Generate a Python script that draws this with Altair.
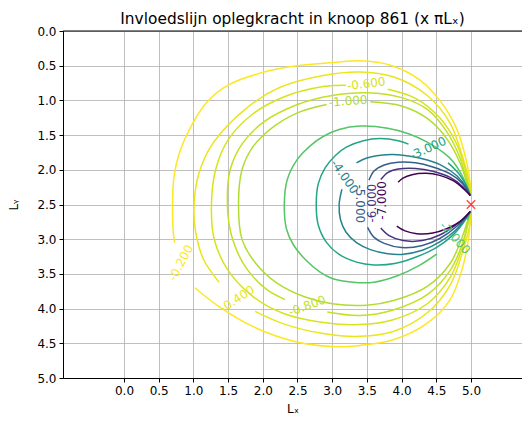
import altair as alt
import pandas as pd

# ---- axis ticks ----
X_TICKS = [0.0, 0.5, 1.0, 1.5, 2.0, 2.5, 3.0, 3.5, 4.0, 4.5, 5.0]
Y_TICKS = [0.0, 0.5, 1.0, 1.5, 2.0, 2.5, 3.0, 3.5, 4.0, 4.5, 5.0]

# ---- contour levels ----
LEVELS = [-0.2, -0.4, -0.6, -0.8, -1.0, -2.0, -3.0, -4.0, -5.0, -6.0, -7.0]

# ---- contour segments: (x, y) ----
C_02 = [
    [(4.99, 2.37), (4.99, 2.22), (4.94, 1.90), (4.79, 1.40), (4.55, 1.00), (4.27, 0.71),
     (3.83, 0.49), (3.40, 0.43), (3.06, 0.45), (2.50, 0.50), (2.10, 0.57), (1.50, 0.78),
     (1.20, 1.02), (0.99, 1.33), (0.80, 1.75), (0.72, 2.10), (0.70, 2.50), (0.71, 2.90),
     (0.73, 3.05)],
    [(1.02, 3.70), (1.38, 3.98), (1.86, 4.26), (2.49, 4.48), (3.11, 4.55), (3.40, 4.53),
     (3.88, 4.45), (4.37, 4.21), (4.70, 3.87), (4.88, 3.40), (4.97, 2.95), (4.99, 2.60)],
]
C_04 = [
    [(4.99, 2.37), (4.99, 2.25), (4.88, 1.82), (4.70, 1.33), (4.37, 0.93), (3.88, 0.66),
     (3.40, 0.59), (2.87, 0.64), (2.25, 0.81), (1.78, 1.10), (1.28, 1.62), (1.08, 2.05),
     (1.01, 2.50), (1.03, 2.88), (1.15, 3.30), (1.37, 3.62)],
    [(1.89, 4.04), (2.30, 4.22), (2.87, 4.36), (3.40, 4.40), (3.88, 4.33), (4.37, 4.06),
     (4.70, 3.66), (4.88, 3.18), (4.99, 2.75), (4.99, 2.60)],
]
C_06 = [
    [(4.99, 2.37), (4.92, 2.00), (4.78, 1.60), (4.55, 1.25), (4.20, 0.97), (3.80, 0.84)],
    [(3.20, 0.78), (2.87, 0.80), (2.30, 0.95), (1.85, 1.20), (1.50, 1.57), (1.32, 2.00),
     (1.26, 2.50), (1.30, 3.00), (1.50, 3.45), (1.85, 3.82), (2.30, 4.07), (2.87, 4.20),
     (3.40, 4.23), (3.88, 4.16), (4.37, 3.93), (4.70, 3.55), (4.88, 3.10), (4.99, 2.60)],
]
C_08 = [
    [(4.99, 2.37), (4.85, 1.85), (4.65, 1.45), (4.37, 1.13), (4.00, 0.96), (3.50, 0.89),
     (3.00, 0.93), (2.50, 1.06), (2.00, 1.32), (1.70, 1.63), (1.53, 2.00), (1.49, 2.50),
     (1.55, 2.95), (1.75, 3.40), (2.05, 3.72), (2.32, 3.87)],
    [(2.93, 4.05), (3.40, 4.10), (3.88, 4.02), (4.37, 3.80), (4.70, 3.45), (4.88, 3.05),
     (4.99, 2.60)],
]
C_10 = [
    [(4.99, 2.37), (4.85, 1.92), (4.65, 1.55), (4.37, 1.26), (4.00, 1.08), (3.55, 1.02)],
    [(2.92, 1.06), (2.50, 1.18), (2.10, 1.42), (1.85, 1.68), (1.70, 2.00), (1.65, 2.50),
     (1.70, 3.00), (1.90, 3.35), (2.20, 3.63), (2.60, 3.83), (3.00, 3.93), (3.50, 3.95),
     (3.90, 3.88), (4.37, 3.68), (4.70, 3.35), (4.88, 2.95), (4.99, 2.60)],
]
C_20 = [
    [(4.99, 2.37), (4.88, 2.10), (4.74, 1.88), (4.60, 1.75), (4.37, 1.60), (4.10, 1.48),
     (3.80, 1.40), (3.40, 1.37), (3.10, 1.42), (2.87, 1.52), (2.70, 1.64), (2.49, 1.86),
     (2.35, 2.15), (2.31, 2.50), (2.34, 2.85), (2.44, 3.08), (2.62, 3.30), (2.82, 3.47),
     (3.01, 3.57), (3.30, 3.62), (3.60, 3.62), (3.93, 3.53), (4.25, 3.38), (4.51, 3.21)],
    [(4.95, 2.72), (4.99, 2.60)],
]
C_30 = [
    [(4.99, 2.37), (4.93, 2.22), (4.82, 2.05), (4.67, 1.90)],
    [(4.10, 1.63), (3.95, 1.58), (3.69, 1.55), (3.45, 1.58), (3.21, 1.67), (3.05, 1.79),
     (2.90, 1.97), (2.80, 2.20), (2.77, 2.50), (2.80, 2.80), (2.92, 3.05), (3.10, 3.22),
     (3.35, 3.33), (3.60, 3.37), (3.90, 3.35), (4.20, 3.26), (4.50, 3.12), (4.75, 2.93),
     (4.92, 2.72), (4.99, 2.60)],
]
C_40 = [
    [(4.99, 2.37), (4.93, 2.25), (4.80, 2.09), (4.60, 1.95), (4.37, 1.86), (4.10, 1.80),
     (3.88, 1.78), (3.70, 1.79), (3.50, 1.83), (3.35, 1.90)],
    [(3.14, 2.28), (3.10, 2.50), (3.12, 2.72), (3.20, 2.90), (3.35, 3.05), (3.55, 3.15),
     (3.80, 3.21), (4.00, 3.22), (4.30, 3.16), (4.55, 3.04), (4.80, 2.85), (4.99, 2.60)],
]
C_50 = [
    [(4.99, 2.37), (4.88, 2.20), (4.70, 2.06), (4.45, 1.96), (4.20, 1.90), (3.95, 1.89),
     (3.75, 1.93), (3.60, 2.02), (3.53, 2.15)],
    [(3.51, 2.83), (3.60, 2.97), (3.75, 3.06), (4.00, 3.12), (4.30, 3.09), (4.55, 2.99),
     (4.80, 2.81), (4.99, 2.60)],
]
C_60 = [
    [(4.99, 2.37), (4.88, 2.24), (4.70, 2.11), (4.45, 2.02), (4.20, 1.98), (3.95, 1.99),
     (3.80, 2.04), (3.70, 2.14)],
    [(3.70, 2.84), (3.82, 2.95), (4.02, 3.02), (4.30, 3.02), (4.55, 2.94), (4.80, 2.78),
     (4.99, 2.60)],
]
C_70 = [
    [(4.99, 2.37), (4.90, 2.28), (4.75, 2.16), (4.55, 2.08), (4.35, 2.05), (4.15, 2.07),
     (4.02, 2.12), (3.95, 2.18)],
    [(3.93, 2.81), (4.05, 2.88), (4.22, 2.92), (4.45, 2.91), (4.65, 2.85), (4.85, 2.74),
     (4.99, 2.60)],
]
CONTOURS = [C_02, C_04, C_06, C_08, C_10, C_20, C_30, C_40, C_50, C_60, C_70]

# ---- inline contour labels ----
LABEL_TEXT = ["-0.200", "-0.400", "-0.600", "-0.800", "-1.000", "-2.000",
              "-3.000", "-4.000", "-5.000", "-6.000", "-7.000"]
LABEL_X = [0.82, 1.63, 3.49, 2.64, 3.23, 4.77, 4.38, 3.18, 3.40, 3.57, 3.72]
LABEL_Y = [3.34, 3.86, 0.76, 3.96, 1.01, 2.98, 1.69, 2.10, 2.49, 2.48, 2.44]
LABEL_ANGLE = [298, 327, 353, 340, 356, 48, 335, 55, 90, 270, 270]

# ---- support node marker ----
NODE_X = [5.0]
NODE_Y = [2.5]

rows = []
for lev, segs in zip(LEVELS, CONTOURS):
    for si, seg in enumerate(segs):
        for oi, (px, py) in enumerate(seg):
            rows.append({"x": px, "y": py, "level": lev, "seg": f"{lev}_{si}", "o": oi})
lines_df = pd.DataFrame(rows)
labels_df = pd.DataFrame({"x": LABEL_X, "y": LABEL_Y, "level": LEVELS,
                          "text": LABEL_TEXT, "angle": LABEL_ANGLE})
node_df = pd.DataFrame({"x": NODE_X, "y": NODE_Y})

W, H = 459, 347
FONT = "DejaVu Sans"

xscale = alt.Scale(domain=[-0.879, 5.735], nice=False, zero=False)
yscale = alt.Scale(domain=[0, 5], reverse=True, nice=False, zero=False)
cscale = alt.Scale(scheme="viridis", domain=[-7.0, -0.2])

common_axis = dict(format=".1f", grid=True, gridColor="#b0b0b0", gridWidth=0.8,
                   domainColor="black", domainWidth=1, tickColor="black", tickSize=4,
                   labelFontSize=12, labelColor="black", labelFont=FONT, titleFont=FONT,
                   titleFontSize=12, titleFontWeight="normal", titleColor="black",
                   labelPadding=3, labelFlush=False, labelOverlap=False, tickCount=11)
xaxis = alt.Axis(values=X_TICKS, title="Lₓ", titlePadding=7, **common_axis)
yaxis = alt.Axis(values=Y_TICKS, title="Lᵧ", titlePadding=16, **common_axis)

X_ENC = alt.X("x:Q", scale=xscale, axis=xaxis)
Y_ENC = alt.Y("y:Q", scale=yscale, axis=yaxis)

lines = alt.Chart(lines_df).mark_line(strokeWidth=1.5, interpolate="catmull-rom").encode(
    x=X_ENC, y=Y_ENC,
    color=alt.Color("level:Q", scale=cscale, legend=None),
    detail="seg:N",
    order="o:Q",
)

labels = alt.Chart(labels_df).mark_text(font=FONT, fontSize=12, align="center",
                                        baseline="middle").encode(
    x=X_ENC, y=Y_ENC,
    text="text:N",
    angle=alt.Angle("angle:Q", scale=None),
    color=alt.Color("level:Q", scale=cscale, legend=None),
)

node = alt.Chart(node_df).mark_point(
    shape="M-1,-1L1,1M-1,1L1,-1", size=70, color="red", strokeWidth=1.5, filled=False
).encode(x=X_ENC, y=Y_ENC)

topline = alt.Chart(pd.DataFrame({"a": [0]})).mark_rule(color="black", strokeWidth=1).encode(
    x=alt.value(0), x2=alt.value(W), y=alt.value(0)
)

chart = alt.layer(lines, labels, node, topline).properties(
    width=W, height=H,
    title=alt.Title("Invloedslijn oplegkracht in knoop 861 (x πLₓ)", font=FONT, fontSize=15.4,
                    fontWeight="normal", color="black", anchor="middle", offset=6, dy=8),
    autosize=alt.AutoSizeParams(type="none"),
    padding={"left": 55, "top": 23, "right": 0, "bottom": 37},
).configure_view(stroke=None).configure(background="white")

chart.save("out.html", embed_options={"renderer": "svg", "actions": False})
